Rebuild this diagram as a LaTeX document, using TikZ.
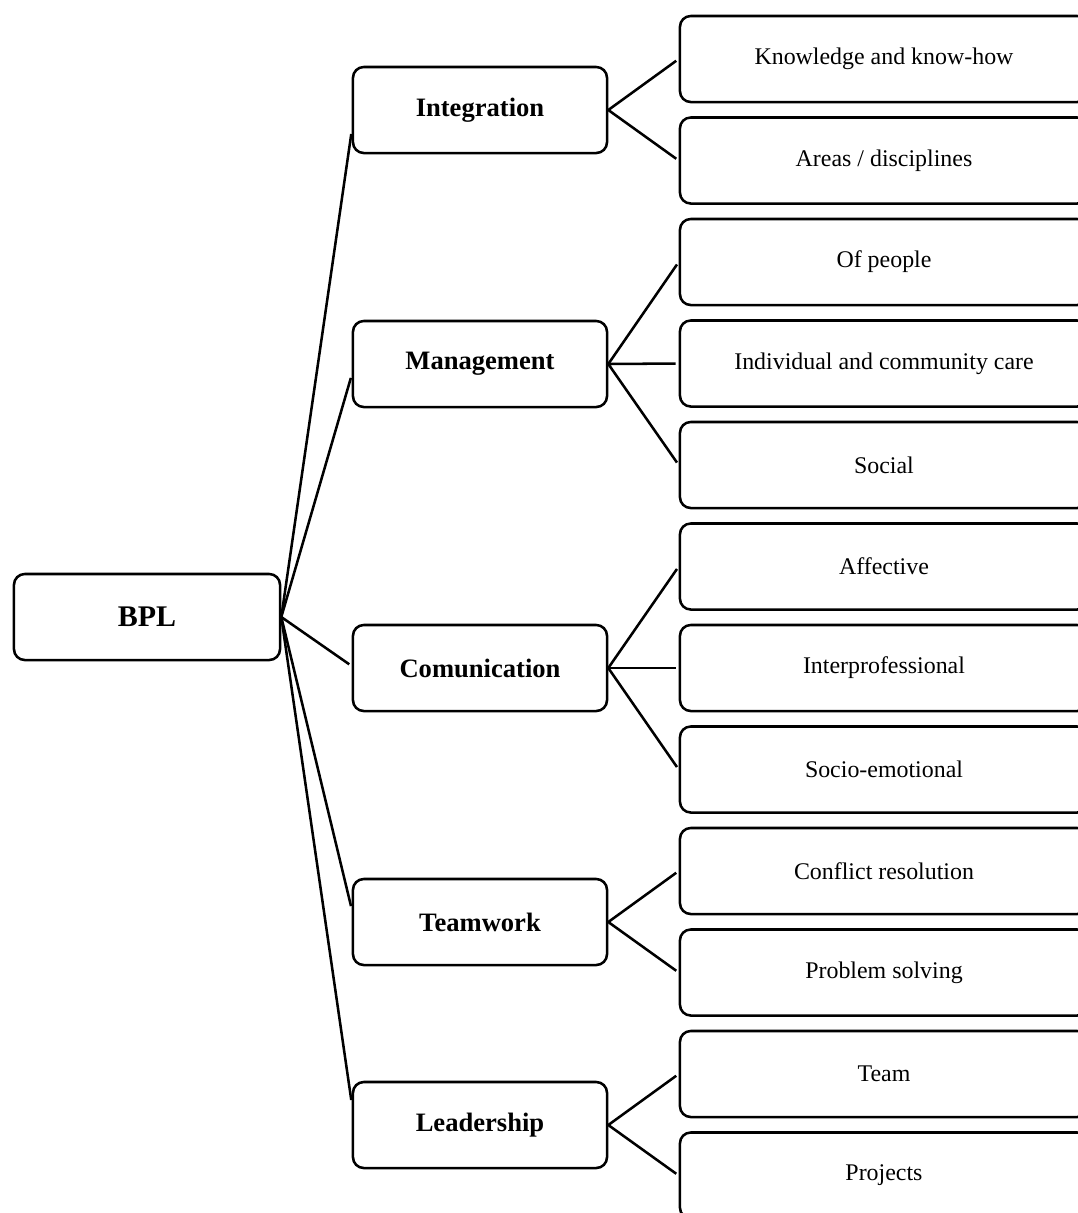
\documentclass[tikz,border=0pt]{standalone}
\usepackage{fontspec}
\setmainfont{Liberation Serif}
\usetikzlibrary{calc}
\newcommand{\lwidth}{1.8pt}
\newcommand{\rcorner}{0.27cm}

\tikzset{
  rootbox/.style={draw, rounded corners=\rcorner, line width=\lwidth,
    minimum width=6.65cm, minimum height=2.15cm,
    font=\fontsize{21.3}{25}\selectfont\bfseries},
  catbox/.style={draw, rounded corners=\rcorner, line width=\lwidth,
    minimum width=6.35cm, minimum height=2.15cm,
    font=\fontsize{18.9}{22}\selectfont\bfseries},
  leafbox/.style={draw, rounded corners=\rcorner, line width=\lwidth,
    minimum width=10.2cm, minimum height=2.15cm,
    font=\fontsize{17}{20}\selectfont},
  link/.style={line width=\lwidth, shorten >=0.075cm}
}

\begin{document}
\begin{tikzpicture}[x=0.025cm, y=-0.025cm]
        \useasboundingbox (0,0) rectangle (1078,1213);
        \clip (0,0) rectangle (1078,1213);
        
        % root
        \node[rootbox] (bpl) at (147,617) {BPL};
        
        % categories
        \node[catbox] (int) at (480,110) {Integration};
        \node[catbox] (man) at (480,364) {Management};
        \node[catbox] (com) at (480,668) {Comunication};
        \node[catbox] (tea) at (480,922) {Teamwork};
        \node[catbox] (lea) at (480,1125) {Leadership};
        
        % leaves
        \foreach \txt [count=\i] in {Knowledge and know-how, Areas / disciplines,
            Of people, Individual and community care, Social,
            Affective, Interprofessional, Socio-emotional,
            Conflict resolution, Problem solving, Team, Projects}
            \node[leafbox] (l\i) at (884,{59+101.5*(\i-1)}) {\txt};
        
        \foreach \c/\d in {int/21, man/11, com/-2, tea/-13, lea/-22}
            \draw[link] (bpl.east) -- ($(\c.west)+(0,\d)$);
        
        \foreach \c/\l in {int/1, int/2, man/3, man/4, man/5, com/6, com/7,
            com/8, tea/9, tea/10, lea/11, lea/12}
            \draw[link] (\c.east) -- (l\l.west);
        
    \end{tikzpicture}
\end{document}
